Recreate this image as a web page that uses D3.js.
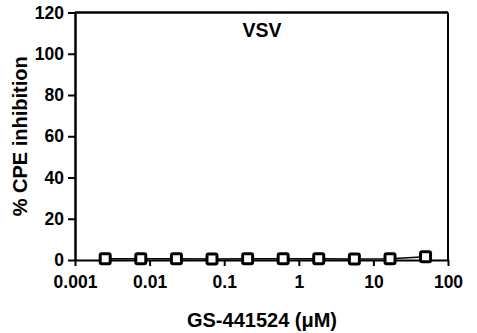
<!DOCTYPE html>
<html>
<head>
<meta charset="utf-8">
<script src="https://cdn.jsdelivr.net/npm/d3@7"></script>
<style>
  body { margin: 0; background: #fff; }
  text { font-family: Arial, "Liberation Sans", sans-serif; font-weight: bold; fill: #000; }
</style>
</head>
<body>
<div class="chart"></div>
<script>
// data (3-fold dilutions from 50 uM)
const conc = [0.00254, 0.00762, 0.0229, 0.0686, 0.206, 0.617, 1.85, 5.56, 16.7, 50];
const inhibition = [0.6, 0.6, 0.6, 0.5, 0.6, 0.6, 0.6, 0.5, 0.6, 1.6];
const xTicks = [0.001, 0.01, 0.1, 1, 10, 100];
const yTicks = [0, 20, 40, 60, 80, 100, 120];

const width = 477, height = 333;
const margin = {top: 12.5, right: 29, bottom: 73, left: 75};

const svg = d3.select('div.chart').append('svg')
    .attr('width', width)
    .attr('height', height);

const x = d3.scaleLog().domain([0.001, 100]).range([margin.left, width - margin.right]);
const y = d3.scaleLinear().domain([0, 120]).range([height - margin.bottom, margin.top]);

// box top + right
svg.append('line')
    .attr('x1', margin.left).attr('x2', width - margin.right)
    .attr('y1', y(120)).attr('y2', y(120))
    .attr('stroke', '#000').attr('stroke-width', 2.5);
svg.append('line')
    .attr('x1', width - margin.right).attr('x2', width - margin.right)
    .attr('y1', y(120)).attr('y2', y(0))
    .attr('stroke', '#000').attr('stroke-width', 2);

// y axis
const yAxis = svg.append('g')
    .attr('transform', `translate(${margin.left},0)`)
    .call(d3.axisLeft(y).tickValues(yTicks).tickSize(7).tickPadding(4).tickSizeOuter(0));
yAxis.select('.domain').attr('stroke-width', 2.5);
yAxis.selectAll('.tick line').attr('stroke-width', 2);
yAxis.selectAll('.tick text').style('font-size', '17.5px');

// x axis
const xAxis = svg.append('g')
    .attr('transform', `translate(0,${y(0)})`)
    .call(d3.axisBottom(x).tickValues(xTicks).tickFormat(d => String(d)).tickSize(6).tickPadding(10).tickSizeOuter(0));
xAxis.select('.domain').attr('stroke-width', 2);
xAxis.selectAll('.tick line').attr('stroke-width', 2);
xAxis.selectAll('.tick text').style('font-size', '17.5px');

// connecting line
const line = d3.line().x((d, i) => x(conc[i])).y(d => y(d));
svg.append('path')
    .datum(inhibition)
    .attr('d', line)
    .attr('fill', 'none')
    .attr('stroke', '#000')
    .attr('stroke-width', 1.5);

// markers
svg.selectAll('rect.pt')
    .data(inhibition)
    .enter()
    .append('rect')
    .attr('class', 'pt')
    .attr('x', (d, i) => x(conc[i]) - 5)
    .attr('y', d => y(d) - 5)
    .attr('width', 10).attr('height', 10)
    .attr('rx', 1.5)
    .attr('fill', '#fff')
    .attr('stroke', '#000')
    .attr('stroke-width', 3);

// titles
svg.append('text')
    .attr('x', 262).attr('y', 37)
    .attr('text-anchor', 'middle')
    .style('font-size', '19.5px')
    .text('VSV');

svg.append('text')
    .attr('x', 262).attr('y', 327)
    .attr('text-anchor', 'middle')
    .style('font-size', '20px')
    .text('GS-441524 (μM)');

svg.append('text')
    .attr('transform', `translate(27,${(y(0) + y(120)) / 2}) rotate(-90)`)
    .attr('text-anchor', 'middle')
    .style('font-size', '20px')
    .text('% CPE inhibition');
</script>
</body>
</html>
